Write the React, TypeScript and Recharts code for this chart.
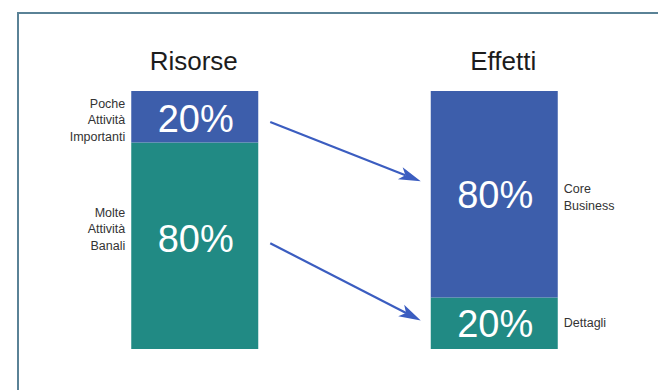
import { Bar, BarChart, LabelList, ReferenceLine, XAxis, YAxis } from "recharts";

const CATEGORIES = ["Risorse", "Effetti"];
// bottom (teal) and top (blue) segments of each column, in %
const BOTTOM_VALUES = [80, 20];
const TOP_VALUES = [20, 80];
const BOTTOM_NOTES = [["Molte", "Attività", "Banali"], ["Dettagli"]];
const TOP_NOTES = [["Poche", "Attività", "Importanti"], ["Core", "Business"]];
// arrows: level on Risorse -> level on Effetti
const ARROW_FROM = [88, 41];
const ARROW_TO = [65, 11];

const BLUE = "#3d5eab";
const TEAL = "#218a84";
const ARROW = "#3b5dc0";
const FONT = "'Liberation Sans', Arial, Helvetica, sans-serif";
const GAP = 0.288;

const data = CATEGORIES.map((name, i) => ({
  name,
  bottom: BOTTOM_VALUES[i],
  top: TOP_VALUES[i],
}));

function TitleTick({ x, y, payload, index }: any) {
  return (
    <text
      x={x + (index === 1 ? 9 : -1)}
      y={y}
      textAnchor="middle"
      fontSize={26}
      fontFamily={FONT}
      fill="#1c1c1c"
    >
      {payload.value}
    </text>
  );
}

function makeLabel(notes: string[][], tweak: { pct: number; note: number }[]) {
  return function SegmentLabel(props: any) {
    const { x, y, width, height, value, index } = props;
    const cy = y + height / 2;
    const lines = notes[index] ?? [];
    const left = index === 0;
    const lh = 16.5;
    const startY = cy + tweak[index].note - ((lines.length - 1) * lh) / 2 + 4.5;
    return (
      <g fontFamily={FONT}>
        <text
          x={x + width / 2 + 1}
          y={cy + tweak[index].pct + 13.6}
          textAnchor="middle"
          fontSize={38}
          fill="#ffffff"
        >
          {`${value}%`}
        </text>
        {lines.map((t, k) => (
          <text
            key={k}
            x={left ? x - 6 : x + width + 6}
            y={startY + k * lh}
            textAnchor={left ? "end" : "start"}
            fontSize={12.5}
            fill="#333333"
          >
            {t}
          </text>
        ))}
      </g>
    );
  };
}

const TopLabel = makeLabel(TOP_NOTES, [
  { pct: 2, note: 3 },
  { pct: 0, note: 3 },
]);
const BottomLabel = makeLabel(BOTTOM_NOTES, [
  { pct: -7, note: -17 },
  { pct: 0, note: -1 },
]);

function ArrowShape(props: any) {
  const { x1, y1, x2, y2 } = props;
  if (x1 == null || x2 == null) return null;
  const band = x2 - x1;
  const half = (band * (1 - 2 * GAP)) / 2;
  const sx = x1 + half + 12;
  const ex = x2 - half - 10;
  const ang = Math.atan2(y2 - y1, ex - sx);
  const len = 22;
  const w = 6.5;
  const bx = ex - len * Math.cos(ang);
  const by = y2 - len * Math.sin(ang);
  const nx = ex - len * 0.75 * Math.cos(ang);
  const ny = y2 - len * 0.75 * Math.sin(ang);
  const px = -Math.sin(ang) * w;
  const py = Math.cos(ang) * w;
  return (
    <g>
      <line x1={sx} y1={y1} x2={nx} y2={ny} stroke={ARROW} strokeWidth={2.2} />
      <polygon
        points={`${ex},${y2} ${bx + px},${by + py} ${nx},${ny} ${bx - px},${by - py}`}
        fill={ARROW}
      />
    </g>
  );
}

export default function App() {
  return (
    <div
      style={{
        position: "absolute",
        left: 0,
        top: 0,
        width: 658,
        height: 390,
        background: "#ffffff",
        overflow: "hidden",
      }}
    >
      <div
        style={{
          position: "absolute",
          left: 17,
          top: 12,
          right: 0,
          bottom: 0,
          borderLeft: "2px solid #5a8296",
          borderTop: "2px solid #5a8296",
        }}
      />
      <div style={{ position: "absolute", left: 0, top: 0 }}>
        <BarChart
          width={658}
          height={390}
          data={data}
          margin={{ top: 61, right: 14, bottom: 41, left: 45 }}
          barCategoryGap={`${GAP * 100}%`}
        >
          <XAxis
            dataKey="name"
            orientation="top"
            height={30}
            axisLine={false}
            tickLine={false}
            tickSize={0}
            tickMargin={21}
            tick={<TitleTick />}
            interval={0}
          />
          <YAxis hide domain={[0, 100]} />
          <Bar dataKey="bottom" stackId="a" fill={TEAL} isAnimationActive={false}>
            <LabelList dataKey="bottom" content={<BottomLabel />} />
          </Bar>
          <Bar dataKey="top" stackId="a" fill={BLUE} isAnimationActive={false}>
            <LabelList dataKey="top" content={<TopLabel />} />
          </Bar>
          {ARROW_FROM.map((from, i) => (
            <ReferenceLine
              key={i}
              segment={[
                { x: CATEGORIES[0], y: from },
                { x: CATEGORIES[1], y: ARROW_TO[i] },
              ]}
              ifOverflow="visible"
              shape={<ArrowShape />}
            />
          ))}
        </BarChart>
      </div>
    </div>
  );
}
